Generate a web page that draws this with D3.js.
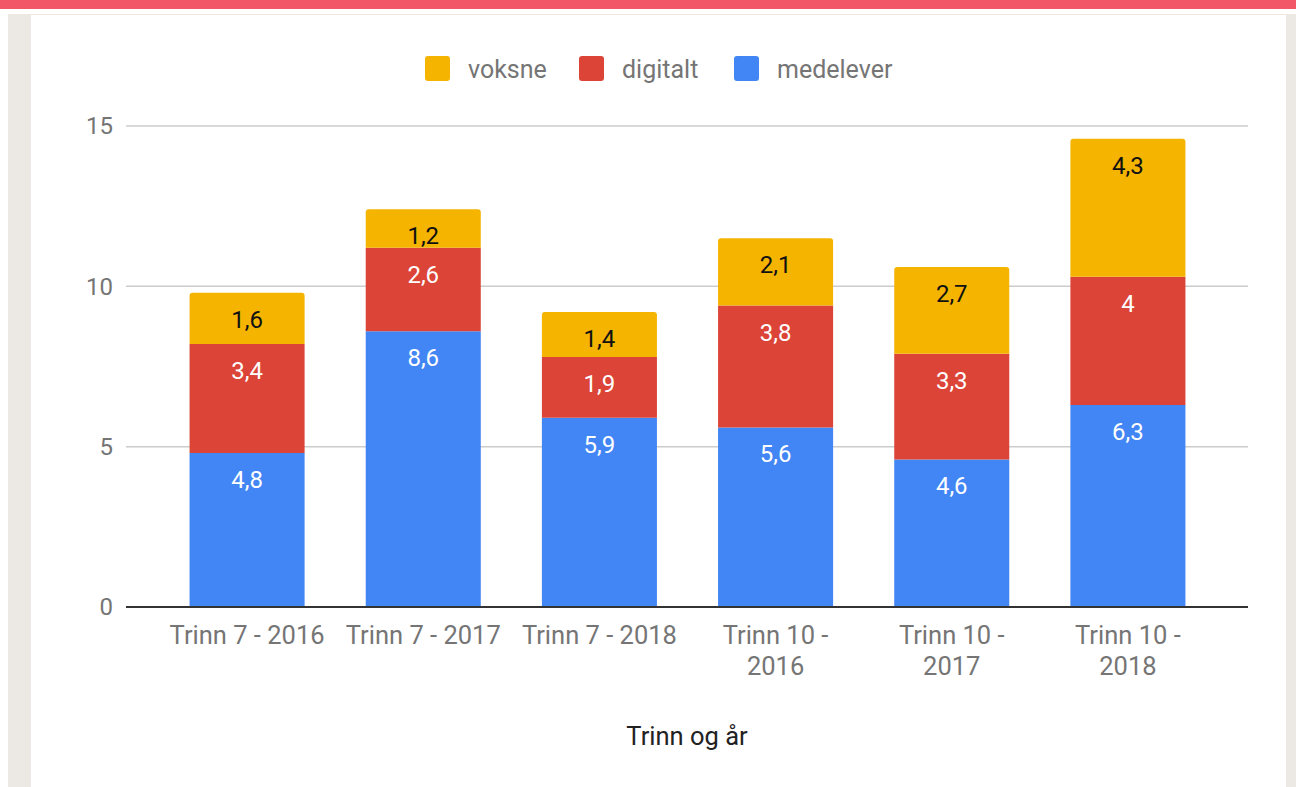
<!DOCTYPE html>
<html>
<head>
<meta charset="utf-8">
<script src="https://cdn.jsdelivr.net/npm/d3@7"></script>
<style>
  body { margin: 0; background: #fff; }
  svg { display: block; font-family: Roboto, "Noto Sans", sans-serif; }
</style>
</head>
<body>
<div id="chart"></div>
<script>
// data
var categories = ["Trinn 7 - 2016", "Trinn 7 - 2017", "Trinn 7 - 2018", "Trinn 10 - 2016", "Trinn 10 - 2017", "Trinn 10 - 2018"];
var medelever = [4.8, 8.6, 5.9, 5.6, 4.6, 6.3];
var digitalt  = [3.4, 2.6, 1.9, 3.8, 3.3, 4.0];
var voksne    = [1.6, 1.2, 1.4, 2.1, 2.7, 4.3];
var yTicks = [0, 5, 10, 15];
var seriesNames = ["medelever", "digitalt", "voksne"];
var legendOrder = ["voksne", "digitalt", "medelever"];
var xTitle = "Trinn og år";

var colors = {medelever: "#4285f4", digitalt: "#db4437", voksne: "#f4b400"};
var labelColors = {medelever: "#fff", digitalt: "#fff", voksne: "#111"};

var W = 1296, H = 787;
var plot = {left: 126, right: 1248, top: 126, bottom: 607};

var svg = d3.select("#chart").append("svg")
    .attr("width", W)
    .attr("height", H);

// page frame around the chart
svg.append("rect").attr("x", 8).attr("y", 14).attr("width", W - 8).attr("height", H - 14).attr("fill", "#ece8e4");
svg.append("rect").attr("x", 31).attr("y", 15).attr("width", 1286 - 31).attr("height", H - 15).attr("fill", "#fff");
svg.append("rect").attr("x", 8).attr("y", 9).attr("width", W - 8).attr("height", 5).attr("fill", "#fff");
svg.append("rect").attr("x", 0).attr("y", 0).attr("width", W).attr("height", 9).attr("fill", "#f25767");

var rows = categories.map(function(c, i) {
  return {cat: c, medelever: medelever[i], digitalt: digitalt[i], voksne: voksne[i]};
});
var stacked = d3.stack().keys(seriesNames)(rows);

var x = d3.scaleBand()
  .domain(categories)
  .range([159, 1216])
  .paddingInner(0.347)
  .paddingOuter(0.1735);

var y = d3.scaleLinear()
  .domain([0, 15])
  .range([plot.bottom, plot.top]);

var nf = d3.formatLocale({decimal: ",", thousands: " ", grouping: [3], currency: ["", " kr"]}).format("~g");

// gridlines
svg.append("g")
  .selectAll("line")
  .data(yTicks.filter(function(d) { return d > 0; }))
  .join("line")
    .attr("x1", plot.left).attr("x2", plot.right)
    .attr("y1", function(d) { return y(d); })
    .attr("y2", function(d) { return y(d); })
    .attr("stroke", "#cccccc")
    .attr("stroke-width", 1.5);

// y axis
var axisY = svg.append("g")
  .attr("transform", "translate(" + plot.left + ",0)")
  .call(d3.axisLeft(y).tickValues(yTicks).tickSize(0).tickPadding(13));
axisY.select(".domain").remove();
axisY.selectAll(".tick text")
  .attr("font-size", 24)
  .attr("font-family", "Roboto")
  .attr("fill", "#757575");

// bars
function barPath(x0, y0, w, h, r) {
  if (r <= 0) return "M" + x0 + "," + y0 + "h" + w + "v" + h + "h" + (-w) + "Z";
  return "M" + x0 + "," + (y0 + h) +
    "V" + (y0 + r) + "Q" + x0 + "," + y0 + " " + (x0 + r) + "," + y0 +
    "H" + (x0 + w - r) + "Q" + (x0 + w) + "," + y0 + " " + (x0 + w) + "," + (y0 + r) +
    "V" + (y0 + h) + "Z";
}

stacked.forEach(function(layer, li) {
  var key = layer.key;
  var top = li === stacked.length - 1;
  var g = svg.append("g");
  g.selectAll("path")
    .data(layer)
    .join("path")
      .attr("fill", colors[key])
      .attr("d", function(d) {
        var y0 = y(d[1]), y1 = y(d[0]);
        return barPath(x(d.data.cat), y0, x.bandwidth(), y1 - y0, top ? 3 : 0);
      });
  g.selectAll("text")
    .data(layer)
    .join("text")
      .attr("x", function(d) { return x(d.data.cat) + x.bandwidth() / 2; })
      .attr("y", function(d) { return y(d[1]) + 35; })
      .attr("text-anchor", "middle")
      .attr("font-size", 24)
      .attr("fill", labelColors[key])
      .text(function(d) { return nf(d[1] - d[0]); });
});

// baseline
svg.append("line")
  .attr("x1", plot.left).attr("x2", plot.right)
  .attr("y1", y(0)).attr("y2", y(0))
  .attr("stroke", "#333")
  .attr("stroke-width", 2);

// x axis labels, wrapped like the original
var xl = svg.append("g")
  .selectAll("text")
  .data(categories)
  .join("text")
    .attr("x", function(d) { return x(d) + x.bandwidth() / 2; })
    .attr("y", 644)
    .attr("text-anchor", "middle")
    .attr("font-size", 25.5)
    .attr("fill", "#757575");
xl.each(function(d) {
  var t = d3.select(this);
  var lines = d.length > 14 ? [d.slice(0, d.lastIndexOf(" ")), d.slice(d.lastIndexOf(" ") + 1)] : [d];
  lines.forEach(function(s, i) {
    t.append("tspan")
      .attr("x", x(d) + x.bandwidth() / 2)
      .attr("dy", i === 0 ? 0 : 31)
      .text(s);
  });
});

// axis title
svg.append("text")
  .attr("x", (plot.left + plot.right) / 2)
  .attr("y", 745)
  .attr("text-anchor", "middle")
  .attr("font-size", 25.5)
  .attr("fill", "#222")
  .text(xTitle);

// legend
var legendX = [425, 579, 734];
var lg = svg.append("g")
  .selectAll("g")
  .data(legendOrder)
  .join("g")
    .attr("transform", function(d, i) { return "translate(" + legendX[i] + ",56)"; });
lg.append("rect")
  .attr("width", 25).attr("height", 25).attr("rx", 3)
  .attr("fill", function(d) { return colors[d]; });
lg.append("text")
  .attr("x", 43).attr("y", 22)
  .attr("font-size", 25)
  .attr("fill", "#757575")
  .text(function(d) { return d; });
</script>
</body>
</html>
